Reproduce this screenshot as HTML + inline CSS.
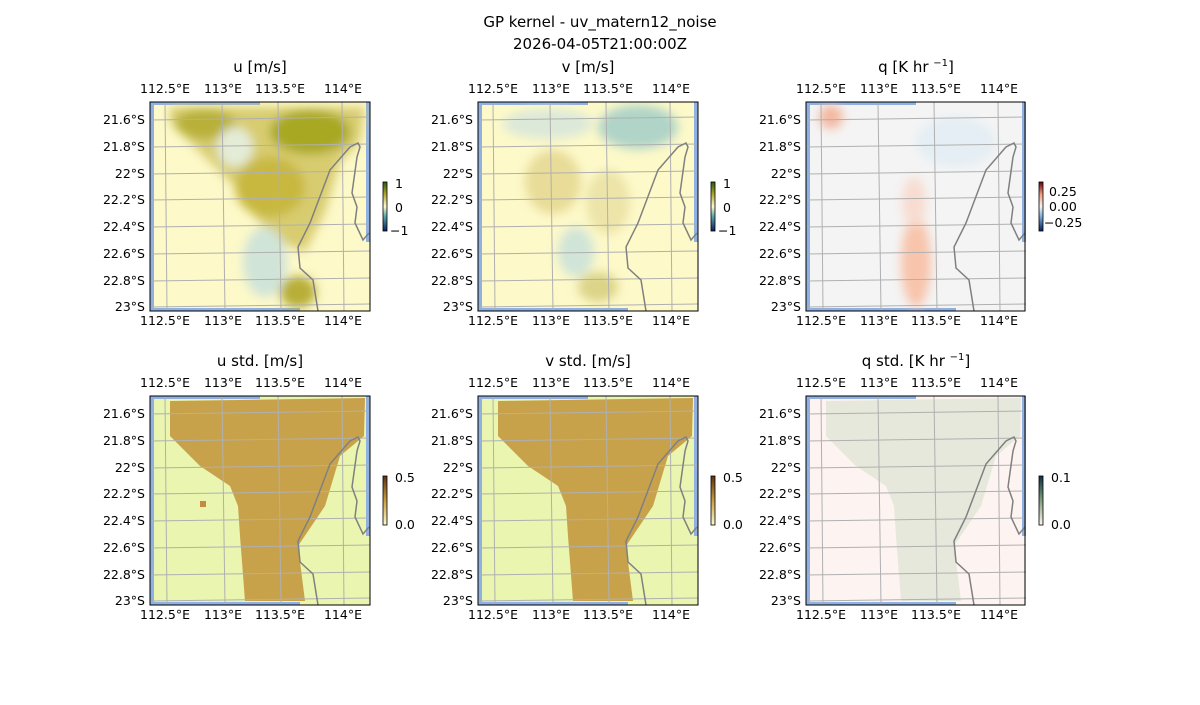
<!DOCTYPE html>
<html><head><meta charset="utf-8"><style>
body{margin:0;background:#fff;}
svg text{font-family:"DejaVu Sans","Liberation Sans",sans-serif;font-size:12.5px;fill:#000}
.t{font-size:15px}
</style></head><body>
<svg width="1200" height="700" viewBox="0 0 1200 700" xmlns="http://www.w3.org/2000/svg">
<defs>
<clipPath id="cp"><rect width="220" height="209"/></clipPath>
<g id="grid" stroke="#b0b0b0" stroke-width="1" fill="none">
<line x1="15" y1="0" x2="17" y2="209"/><line x1="72" y1="0" x2="75" y2="209"/><line x1="128" y1="0" x2="131" y2="209"/><line x1="192" y1="0" x2="194" y2="209"/>
<line x1="0" y1="18" x2="220" y2="15"/><line x1="0" y1="45" x2="220" y2="42"/><line x1="0" y1="72" x2="220" y2="69"/><line x1="0" y1="98" x2="220" y2="95"/><line x1="0" y1="125" x2="220" y2="122"/><line x1="0" y1="152" x2="220" y2="149"/><line x1="0" y1="179" x2="220" y2="176"/><line x1="0" y1="205" x2="220" y2="202"/>
</g>
<path id="coast" fill="none" stroke="#808080" stroke-width="1.5" d="M168,209 L163,178 L150,166 L148,145 L160,121 L180,68 L200,45 L208,41 L210,45 L207,55 L202,91 L207,105 L205,121 L213,138 L219,131"/>
<path id="region" d="M20,5 L215,2 L214,40 L190,60 L175,110 L148,150 L155,205 L95,205 L90,140 L88,110 L80,90 L50,70 L30,50 L20,40 Z"/>
<g id="ticks">
<text x="15" y="-9" text-anchor="middle">112.5°E</text><text x="73" y="-9" text-anchor="middle">113°E</text><text x="130" y="-9" text-anchor="middle">113.5°E</text><text x="193" y="-9" text-anchor="middle">114°E</text>
<text x="15" y="223" text-anchor="middle">112.5°E</text><text x="73" y="223" text-anchor="middle">113°E</text><text x="130" y="223" text-anchor="middle">113.5°E</text><text x="193" y="223" text-anchor="middle">114°E</text>
<text x="-5" y="22" text-anchor="end">21.6°S</text><text x="-5" y="49" text-anchor="end">21.8°S</text><text x="-5" y="76" text-anchor="end">22°S</text><text x="-5" y="102" text-anchor="end">22.2°S</text><text x="-5" y="129" text-anchor="end">22.4°S</text><text x="-5" y="156" text-anchor="end">22.6°S</text><text x="-5" y="183" text-anchor="end">22.8°S</text><text x="-5" y="209" text-anchor="end">23°S</text>
</g>
<g id="ocean" fill="#8fb0e0"><rect x="0" y="0" width="4" height="209"/><rect x="0" y="0" width="110" height="3"/><rect x="216" y="0" width="4" height="140"/><rect x="0" y="206" width="150" height="3"/></g>
<linearGradient id="cbBrBG" x1="0" y1="1" x2="0" y2="0"><stop offset="0" stop-color="#0a2060"/><stop offset="0.3" stop-color="#5aa8a8"/><stop offset="0.5" stop-color="#fffacd"/><stop offset="0.75" stop-color="#b0a830"/><stop offset="1" stop-color="#2a5a10"/></linearGradient>
<linearGradient id="cbRB" x1="0" y1="1" x2="0" y2="0"><stop offset="0" stop-color="#052060"/><stop offset="0.3" stop-color="#80b0d8"/><stop offset="0.5" stop-color="#f5f5f5"/><stop offset="0.75" stop-color="#f0a080"/><stop offset="1" stop-color="#670010"/></linearGradient>
<linearGradient id="cbS" x1="0" y1="1" x2="0" y2="0"><stop offset="0" stop-color="#fff8d0"/><stop offset="0.5" stop-color="#c8a040"/><stop offset="1" stop-color="#603010"/></linearGradient>
<linearGradient id="cbQ" x1="0" y1="1" x2="0" y2="0"><stop offset="0" stop-color="#fff5f0"/><stop offset="0.5" stop-color="#80a080"/><stop offset="1" stop-color="#103040"/></linearGradient>
<filter id="bl"><feGaussianBlur stdDeviation="5"/></filter>
</defs>

<text class="t" x="600" y="27" text-anchor="middle">GP kernel - uv_matern12_noise</text>
<text class="t" x="600" y="49" text-anchor="middle">2026-04-05T21:00:00Z</text>

<!-- u -->
<g transform="translate(150,102)">
<g clip-path="url(#cp)">
<rect width="220" height="209" fill="#fdf9c9"/><use href="#ocean"/>
<g filter="url(#bl)">
<path d="M20,5 L215,5 L210,40 L190,60 L175,110 L155,150 L130,140 L100,110 L95,90 L80,80 L50,50 L20,20Z" fill="#d8cc70"/>
<ellipse cx="160" cy="30" rx="40" ry="22" fill="#a8a820"/><ellipse cx="55" cy="22" rx="30" ry="15" fill="#b8b038"/>
<ellipse cx="85" cy="45" rx="18" ry="20" fill="#e4ecd8"/><ellipse cx="120" cy="85" rx="35" ry="30" fill="#c8b840"/>
<ellipse cx="115" cy="160" rx="22" ry="35" fill="#d0e4d8"/><ellipse cx="148" cy="190" rx="18" ry="16" fill="#b8ae38"/>
</g>
<use href="#grid"/><use href="#coast"/>
</g>
<rect width="220" height="209" fill="none" stroke="#000"/><use href="#ticks"/>
<text class="t" x="110" y="-30" text-anchor="middle">u [m/s]</text>
</g>
<g transform="translate(383,182)"><rect width="4" height="49" fill="url(#cbBrBG)" stroke="#000" stroke-width="0.8"/><text x="12" y="6">1</text><text x="12" y="30">0</text><text x="7" y="53">−1</text></g>

<!-- v -->
<g transform="translate(478,102)">
<g clip-path="url(#cp)">
<rect width="220" height="209" fill="#fdf9c9"/><use href="#ocean"/>
<g filter="url(#bl)">
<ellipse cx="160" cy="25" rx="40" ry="22" fill="#b0d4c8"/><ellipse cx="70" cy="22" rx="45" ry="15" fill="#dce8d8"/>
<ellipse cx="75" cy="80" rx="28" ry="32" fill="#e8dc98"/><ellipse cx="130" cy="100" rx="22" ry="32" fill="#ece4a8"/>
<ellipse cx="98" cy="150" rx="18" ry="25" fill="#d0e4d8"/><ellipse cx="120" cy="185" rx="20" ry="15" fill="#dcd488"/>
</g>
<use href="#grid"/><use href="#coast"/>
</g>
<rect width="220" height="209" fill="none" stroke="#000"/><use href="#ticks"/>
<text class="t" x="110" y="-30" text-anchor="middle">v [m/s]</text>
</g>
<g transform="translate(711,182)"><rect width="4" height="49" fill="url(#cbBrBG)" stroke="#000" stroke-width="0.8"/><text x="12" y="6">1</text><text x="12" y="30">0</text><text x="7" y="53">−1</text></g>

<!-- q -->
<g transform="translate(806,102)">
<g clip-path="url(#cp)">
<rect width="220" height="209" fill="#f4f4f4"/><use href="#ocean"/>
<g filter="url(#bl)">
<ellipse cx="25" cy="15" rx="12" ry="12" fill="#f4b8a0"/><ellipse cx="150" cy="40" rx="40" ry="25" fill="#e4eef4"/>
<ellipse cx="110" cy="160" rx="15" ry="45" fill="#f8c4ac"/><ellipse cx="108" cy="100" rx="12" ry="25" fill="#f8dcd0"/>
</g>
<use href="#grid"/><use href="#coast"/>
</g>
<rect width="219" height="209" fill="none" stroke="#000"/><use href="#ticks"/>
<text class="t" x="110" y="-30" text-anchor="middle">q [K hr <tspan font-size="10" dy="-6">−1</tspan><tspan dy="6">]</tspan></text>
</g>
<g transform="translate(1039,182)"><rect width="4" height="49" fill="url(#cbRB)" stroke="#000" stroke-width="0.8"/><text x="10" y="14">0.25</text><text x="10" y="29">0.00</text><text x="5" y="45">−0.25</text></g>

<!-- u std -->
<g transform="translate(150,396)">
<g clip-path="url(#cp)">
<rect width="220" height="209" fill="#eaf5b0"/><use href="#ocean"/>
<use href="#region" fill="#c8a24a"/><rect x="50" y="105" width="6" height="6" fill="#c88a40"/>
<use href="#grid"/><use href="#coast"/>
</g>
<rect width="220" height="209" fill="none" stroke="#000"/><use href="#ticks"/>
<text class="t" x="110" y="-30" text-anchor="middle">u std. [m/s]</text>
</g>
<g transform="translate(383,476)"><rect width="4" height="49" fill="url(#cbS)" stroke="#000" stroke-width="0.8"/><text x="12" y="6">0.5</text><text x="12" y="53">0.0</text></g>

<!-- v std -->
<g transform="translate(478,396)">
<g clip-path="url(#cp)">
<rect width="220" height="209" fill="#eaf5b0"/><use href="#ocean"/>
<use href="#region" fill="#c8a24a"/>
<use href="#grid"/><use href="#coast"/>
</g>
<rect width="220" height="209" fill="none" stroke="#000"/><use href="#ticks"/>
<text class="t" x="110" y="-30" text-anchor="middle">v std. [m/s]</text>
</g>
<g transform="translate(711,476)"><rect width="4" height="49" fill="url(#cbS)" stroke="#000" stroke-width="0.8"/><text x="12" y="6">0.5</text><text x="12" y="53">0.0</text></g>

<!-- q std -->
<g transform="translate(806,396)">
<g clip-path="url(#cp)">
<rect width="220" height="209" fill="#fdf3f0"/><use href="#ocean"/>
<use href="#region" fill="#e6e8dc"/>
<use href="#grid"/><use href="#coast"/>
</g>
<rect width="219" height="209" fill="none" stroke="#000"/><use href="#ticks"/>
<text class="t" x="110" y="-30" text-anchor="middle">q std. [K hr <tspan font-size="10" dy="-6">−1</tspan><tspan dy="6">]</tspan></text>
</g>
<g transform="translate(1039,476)"><rect width="4" height="49" fill="url(#cbQ)" stroke="#000" stroke-width="0.8"/><text x="12" y="6">0.1</text><text x="12" y="53">0.0</text></g>
</svg>
</body></html>
